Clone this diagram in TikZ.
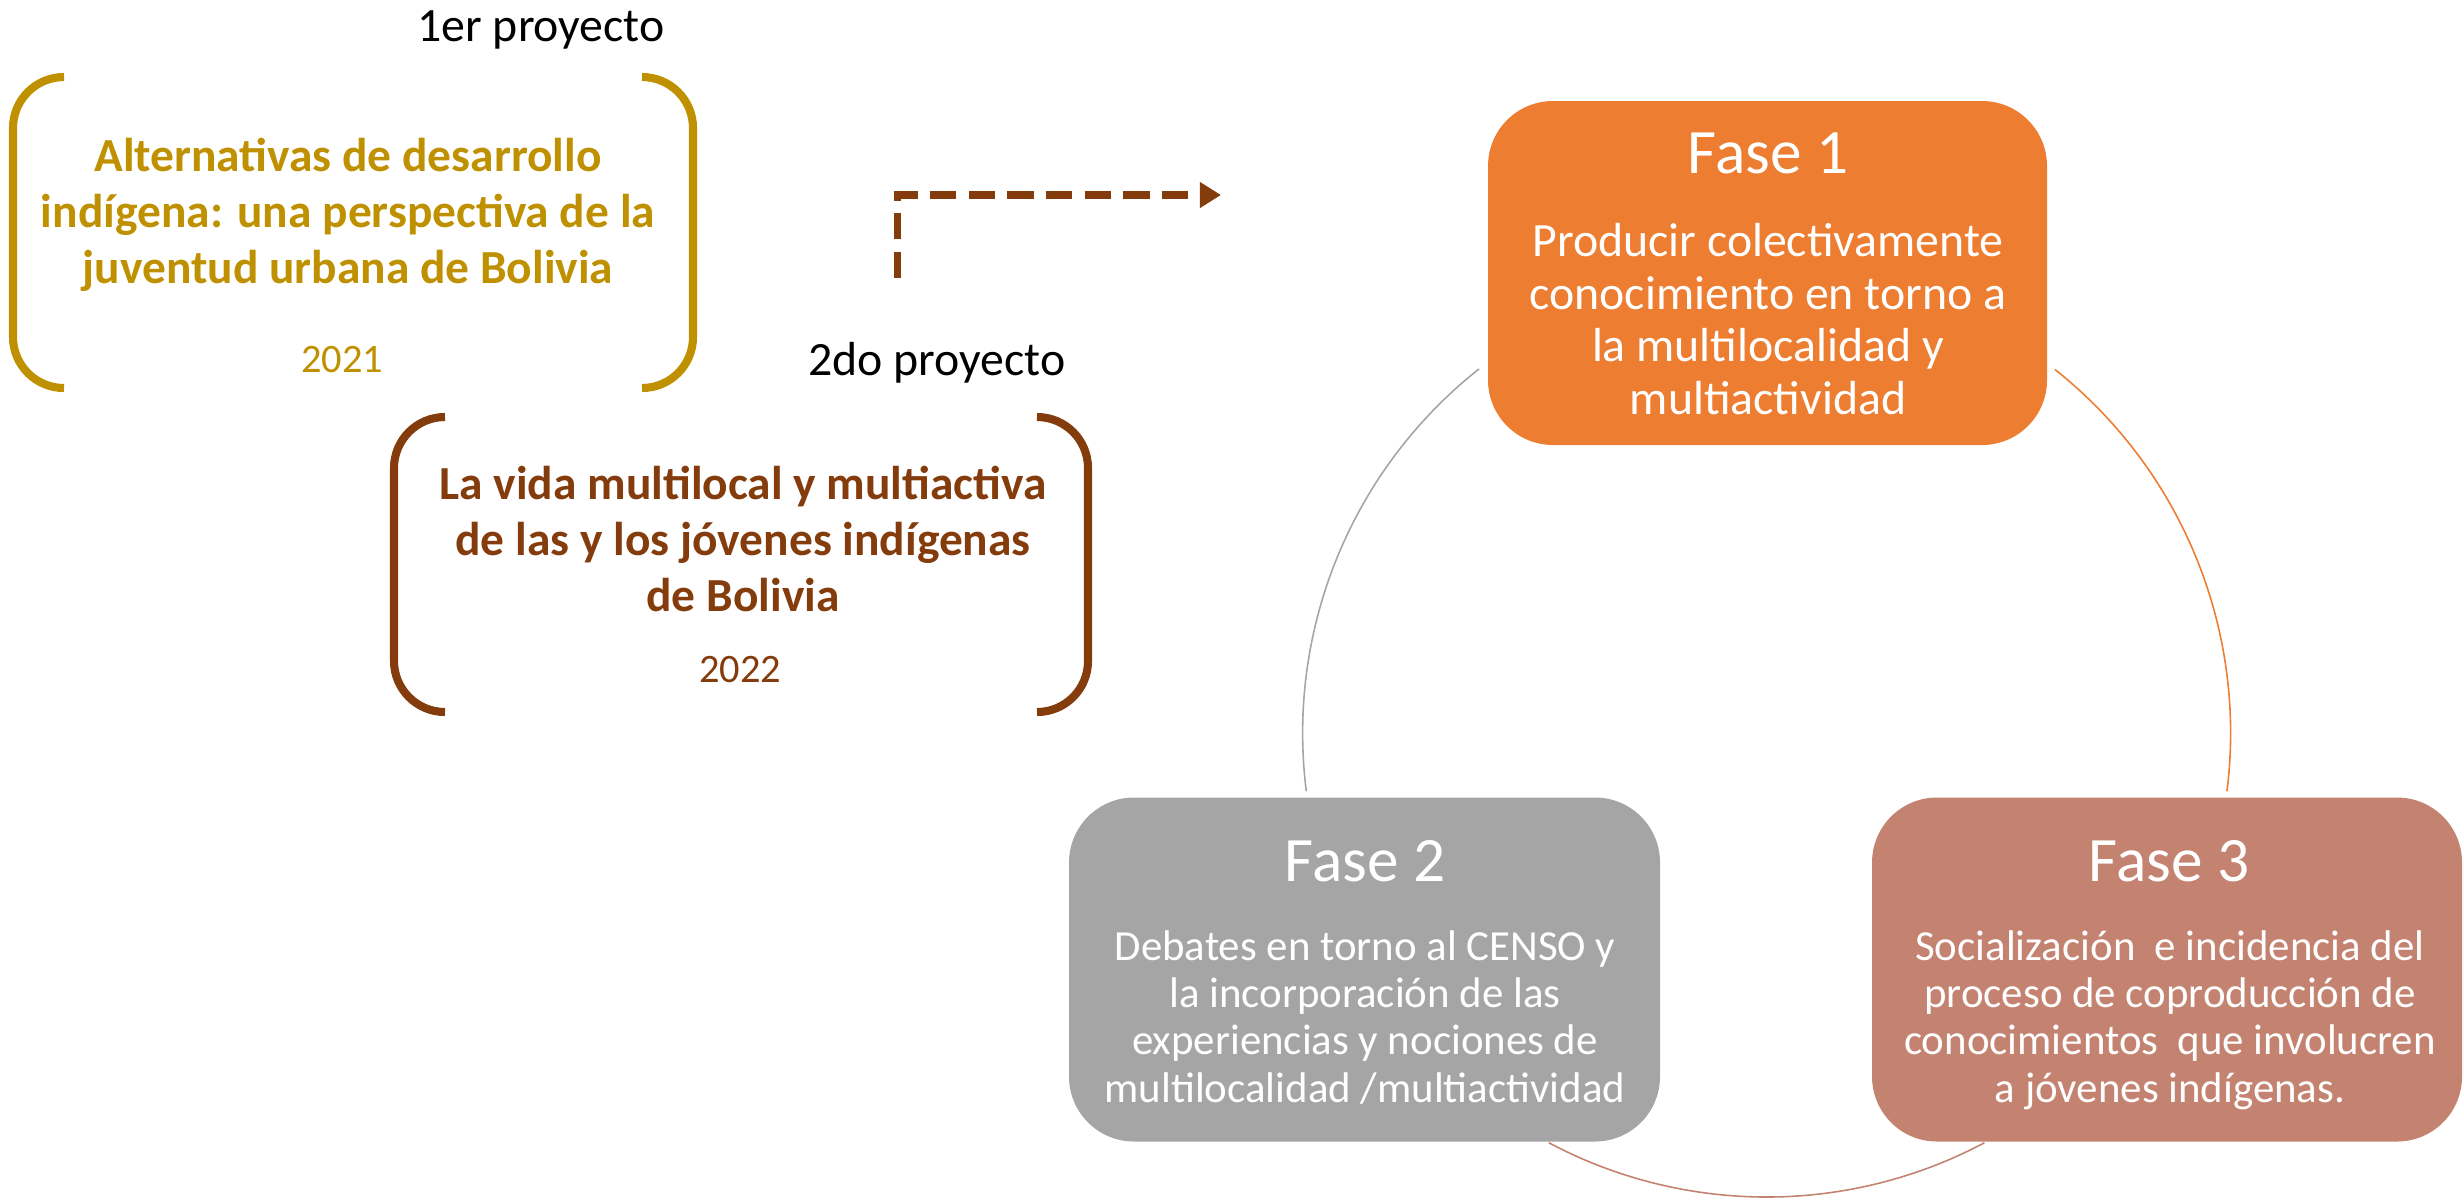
\documentclass[tikz,border=0pt]{standalone}
\usepackage{fontspec}
\setmainfont{Carlito}
\usetikzlibrary{arrows.meta}
\definecolor{gold}{HTML}{BF9000}
\definecolor{brownc}{HTML}{843C0C}
\definecolor{orangec}{HTML}{ED7D31}
\definecolor{grayc}{HTML}{A5A5A5}
\definecolor{salmonc}{HTML}{C48270}
\tikzset{
  bracketline/.style={line width=2.3pt},
  phasebox/.style={rounded corners=0.65cm, inner sep=0pt},
  phasetitle/.style={text=white, anchor=base, inner sep=0pt, font=\fontsize{18}{22}\selectfont},
  bigbody/.style={text=white, anchor=base, inner sep=0pt, align=center, font=\fontsize{13.6}{14.9}\selectfont},
  smallbody/.style={text=white, anchor=base, inner sep=0pt, align=center, font=\fontsize{12.2}{13.45}\selectfont},
  projtitle/.style={anchor=base, inner sep=0pt, align=center, font=\bfseries\fontsize{13.5}{15.8}\selectfont},
  yearlabel/.style={anchor=base, inner sep=0pt, font=\fontsize{11.5}{13}\selectfont},
  projlabel/.style={anchor=base, inner sep=0pt, font=\fontsize{13.6}{16}\selectfont},
  cycle/.style={line width=0.45pt}
}
\begin{document}
\begin{tikzpicture}
\useasboundingbox (0,0) rectangle (24.63,-12);

% cycle arcs
\coordinate (c) at (17.666,-7.33);
\draw[cycle, grayc] ([shift={(128.3:4.64)}]c) arc[start angle=128.3, end angle=187.2, radius=4.64];
\draw[cycle, orangec] ([shift={(51.6:4.64)}]c) arc[start angle=51.6, end angle=-7.2, radius=4.64];
\draw[cycle, salmonc] ([shift={(242:4.64)}]c) arc[start angle=242, end angle=298, radius=4.64];

% phase boxes
\node[phasebox, fill=orangec, minimum width=5.59cm, minimum height=3.44cm] (f1) at (17.675,-2.73) {};
\node[phasebox, fill=grayc, minimum width=5.91cm, minimum height=3.44cm] (f2) at (13.645,-9.695) {};
\node[phasebox, fill=salmonc, minimum width=5.90cm, minimum height=3.44cm] (f3) at (21.67,-9.695) {};

\node[phasetitle] (f1t) at (17.68,-1.73) {Fase 1};
\node[bigbody] (f1b) at (17.68,-4.14) {Producir colectivamente\\conocimiento en torno a\\la multilocalidad y\\multiactividad};

\node[phasetitle] (f2t) at (13.65,-8.81) {Fase 2};
\node[smallbody] (f2b) at (13.65,-11.02) {Debates en torno al CENSO y\\la incorporación de las\\experiencias y nociones de\\multilocalidad /multiactividad};

\node[phasetitle] (f3t) at (21.69,-8.81) {Fase 3};
\node[smallbody] (f3b) at (21.70,-11.02) {Socialización~ e incidencia del\\proceso de coproducción de\\conocimientos~ que involucren\\a jóvenes indígenas.};

% bracket 1
\draw[bracketline, gold] (0.64,-0.77) arc[start angle=90, end angle=180, radius=0.51] -- (0.13,-3.37) arc[start angle=180, end angle=270, radius=0.51];
\draw[bracketline, gold] (6.42,-0.77) arc[start angle=90, end angle=0, radius=0.51] -- (6.93,-3.37) arc[start angle=0, end angle=-90, radius=0.51];
\node[projlabel] (p1) at (5.41,-0.41) {1er proyecto};
\node[projtitle, text=gold] (b1) at (3.48,-2.83) {Alternativas de desarrollo\\indígena: una perspectiva de la\\juventud urbana de Bolivia};
\node[yearlabel, text=gold] (y1) at (3.42,-3.72) {2021};

% bracket 2
\draw[bracketline, brownc] (4.45,-4.17) arc[start angle=90, end angle=180, radius=0.51] -- (3.94,-6.61) arc[start angle=180, end angle=270, radius=0.51];
\draw[bracketline, brownc] (10.37,-4.17) arc[start angle=90, end angle=0, radius=0.51] -- (10.88,-6.61) arc[start angle=0, end angle=-90, radius=0.51];
\node[projlabel] (p2) at (9.37,-3.75) {2do proyecto};
\node[projtitle, text=brownc] (b2) at (7.43,-6.11) {La vida multilocal y multiactiva\\de las y los jóvenes indígenas\\de Bolivia};
\node[yearlabel, text=brownc] (y2) at (7.40,-6.82) {2022};

% dashed arrow
\coordinate (as) at (8.97,-2.78);
\coordinate (ae) at (12.21,-1.95);
\draw[brownc, line width=2pt, dash pattern=on 7.5pt off 3.5pt, -{Triangle[length=6pt,width=7pt]}] (as) |- (ae);
\end{tikzpicture}
\end{document}
